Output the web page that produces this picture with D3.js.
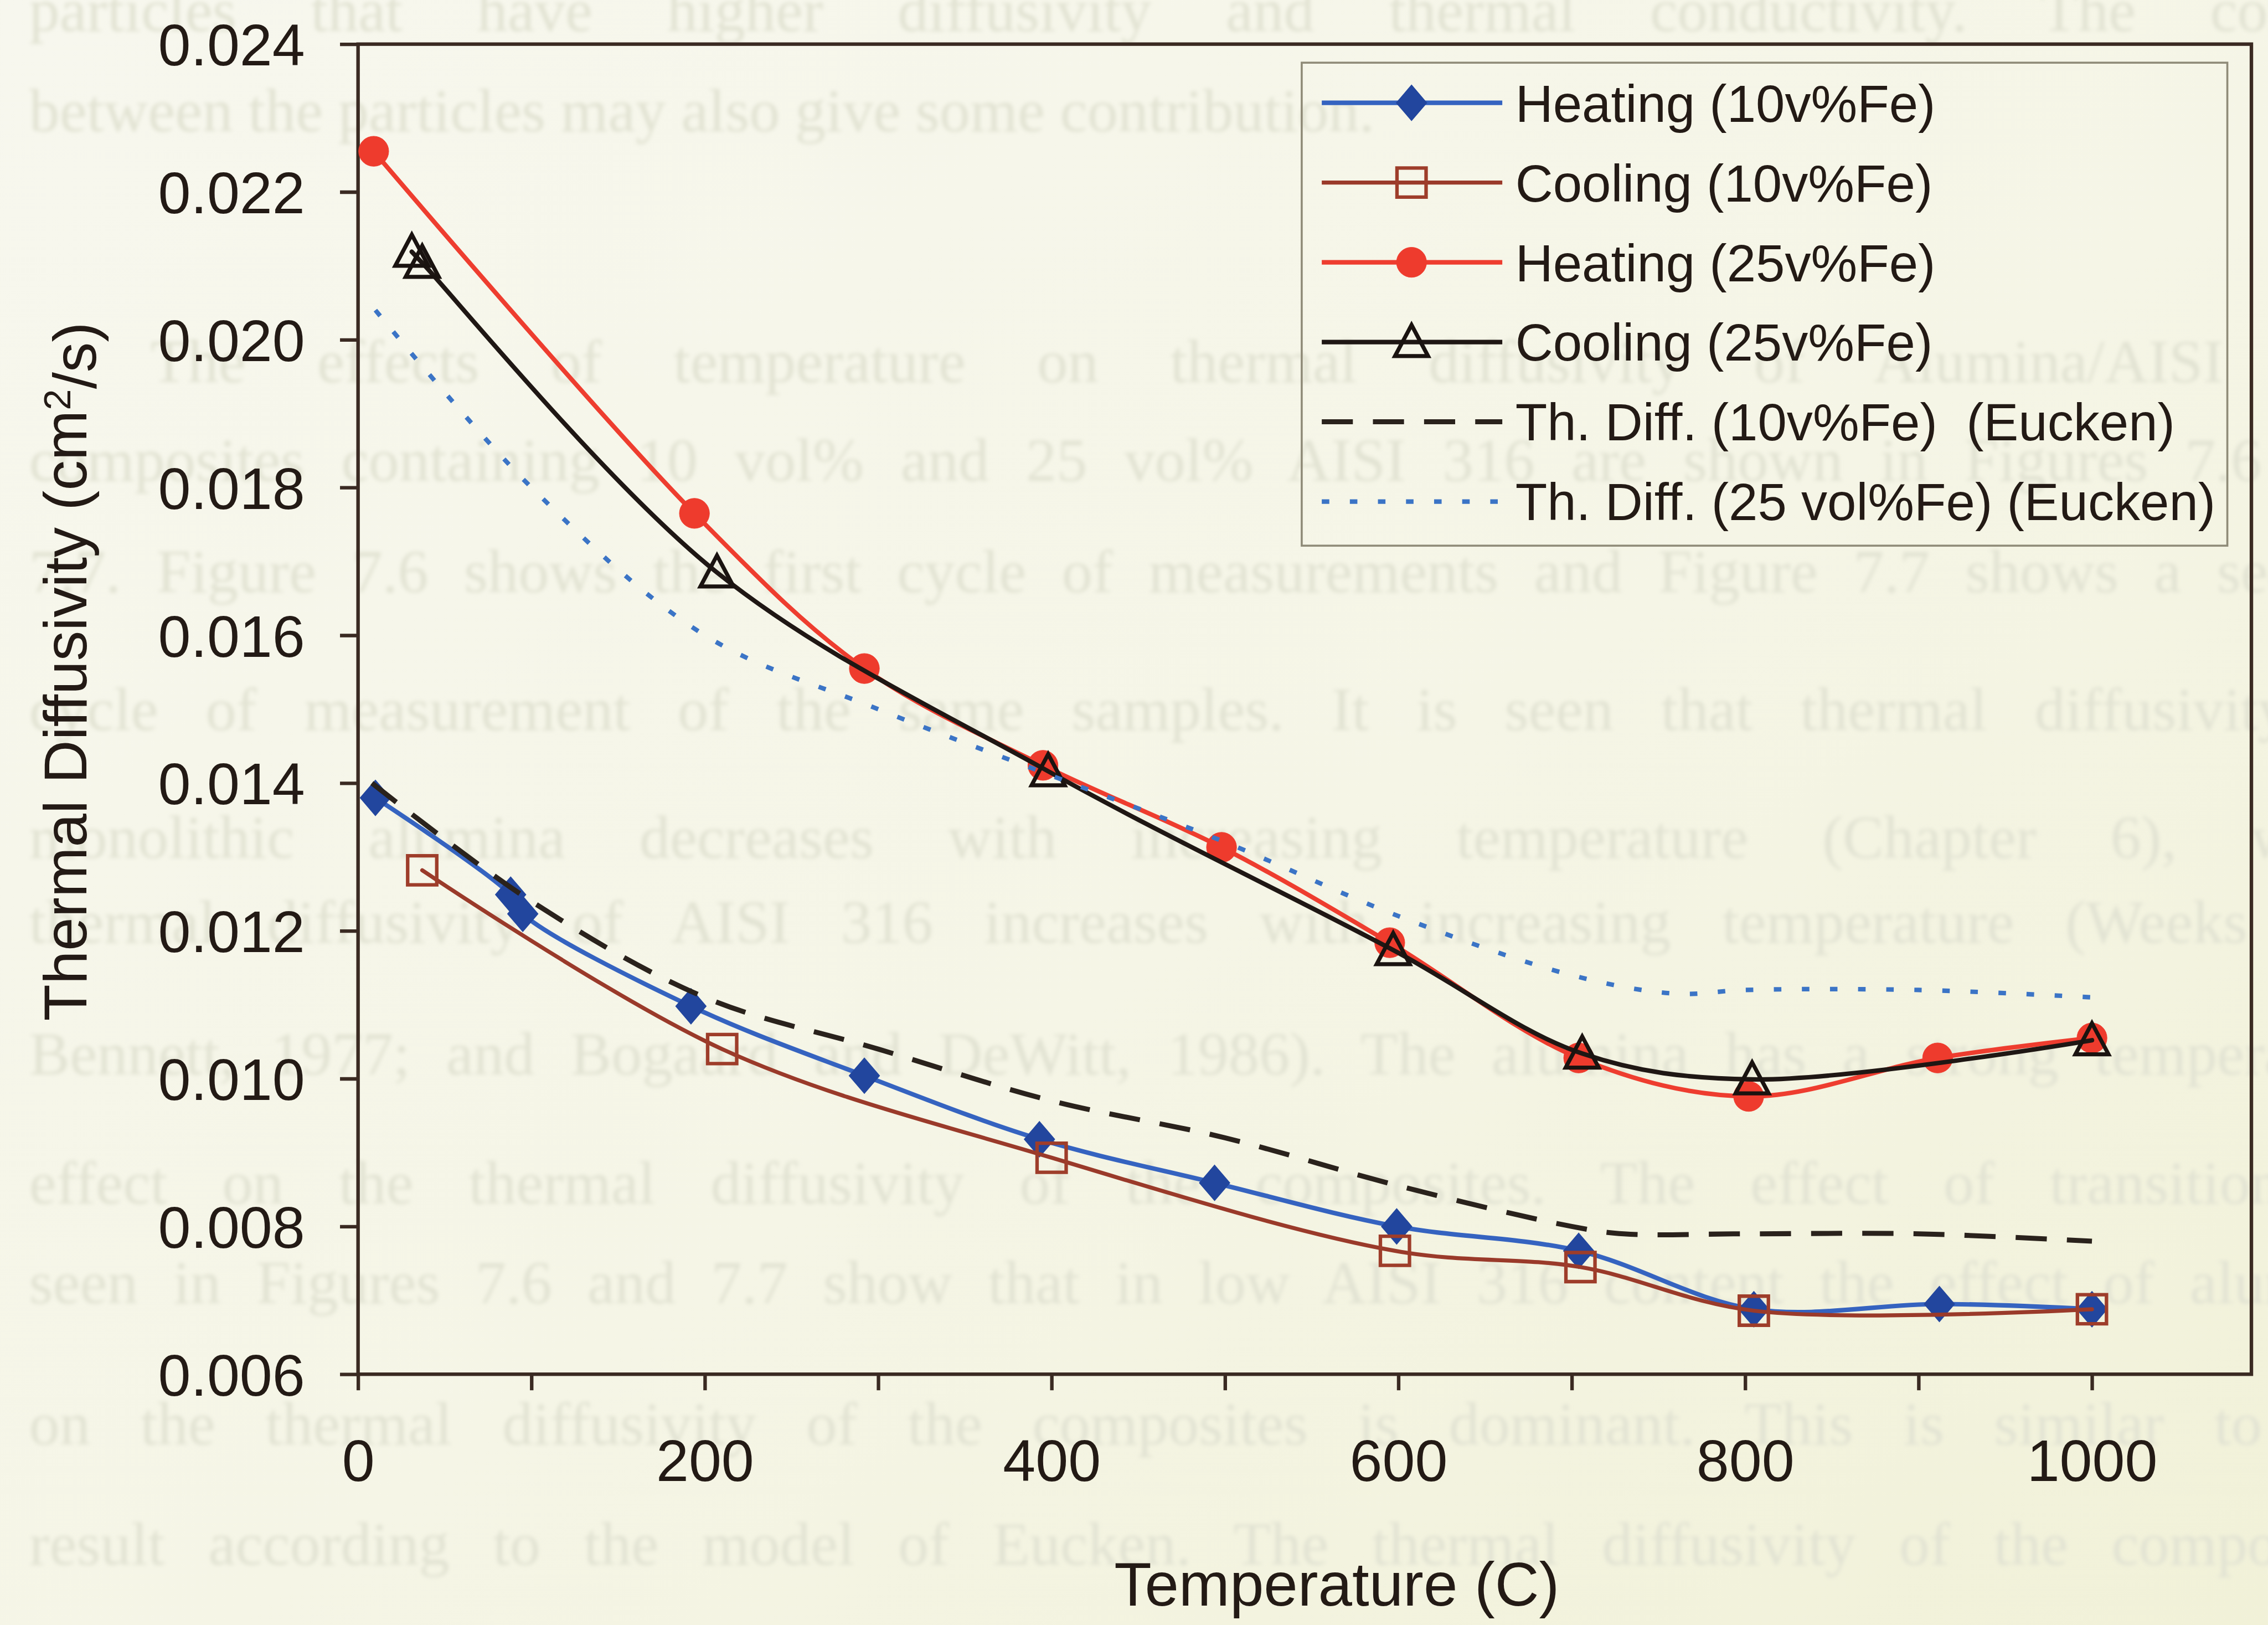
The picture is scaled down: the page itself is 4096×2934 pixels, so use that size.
<!DOCTYPE html>
<html>
<head>
<meta charset="utf-8">
<script src="https://cdn.jsdelivr.net/npm/d3@7"></script>
<style>
  html, body { margin: 0; padding: 0; overflow: hidden; background: #f5f5e7; }
  svg { display: block; }
</style>
</head>
<body>
<svg id="chart"></svg>
<script>
// Thermal diffusivity (cm^2/s) of alumina / AISI 316 composites vs temperature (C)
const heating10T = [10, 88, 95, 192, 292, 393, 494, 599, 704, 805, 912, 1000];
const heating10D = [0.0138, 0.01249, 0.01223, 0.01098, 0.01004, 0.00918, 0.00859, 0.00800, 0.00767, 0.00688, 0.00695, 0.00688];

const cooling10T = [37, 210, 400, 598, 705, 805, 1000];
const cooling10D = [0.01282, 0.0104, 0.00893, 0.00767, 0.00745, 0.00686, 0.00688];

const heating25T = [9, 194, 292, 395, 498, 595, 704, 802, 911, 1000];
const heating25D = [0.02255, 0.01765, 0.01555, 0.01424, 0.01313, 0.01184, 0.01028, 0.00976, 0.01028, 0.01055];

const cooling25T = [31, 37, 207, 398, 597, 706, 804, 1000];
const cooling25D = [0.02119, 0.02104, 0.01685, 0.01416, 0.01174, 0.01034, 0.00999, 0.01052];

// Eucken model predictions
const eucken10T = [8, 100, 200, 300, 400, 500, 600, 700, 730, 800, 900, 1000];
const eucken10D = [0.0140, 0.0124, 0.0111, 0.0104, 0.0097, 0.0092, 0.00855, 0.0080, 0.0079, 0.0079, 0.0079, 0.0078];

const eucken25T = [10, 100, 200, 300, 400, 500, 600, 700, 760, 800, 900, 1000];
const eucken25D = [0.0204, 0.0180, 0.0160, 0.0150, 0.0141, 0.0132, 0.0122, 0.0114, 0.01115, 0.0112, 0.0112, 0.0111];

const seriesNames = [
  "Heating (10v%Fe)",
  "Cooling (10v%Fe)",
  "Heating (25v%Fe)",
  "Cooling (25v%Fe)",
  "Th. Diff. (10v%Fe)  (Eucken)",
  "Th. Diff. (25 vol%Fe) (Eucken)"
];

const xTicks = [0, 100, 200, 300, 400, 500, 600, 700, 800, 900, 1000];
const yTicks = [0.006, 0.008, 0.010, 0.012, 0.014, 0.016, 0.018, 0.020, 0.022, 0.024];

const xTitle = "Temperature (C)";
const yTitleMain = "Thermal Diffusivity (cm";
const yTitleSup = "2";
const yTitleEnd = "/s)";

// faint page text lying behind the figure
const pageLines = [
  "particles that have higher diffusivity and thermal conductivity. The contact",
  "between the particles may also give some contribution.",
  "The effects of temperature on thermal diffusivity of Alumina/AISI 316",
  "composites containing 10 vol% and 25 vol% AISI 316 are shown in Figures 7.6 and",
  "7.7. Figure 7.6 shows the first cycle of measurements and Figure 7.7 shows a second",
  "cycle of measurement of the same samples. It is seen that thermal diffusivity of",
  "monolithic alumina decreases with increasing temperature (Chapter 6), while",
  "thermal diffusivity of AISI 316 increases with increasing temperature (Weeks and",
  "Bennett, 1977; and Bogaard and DeWitt, 1986). The alumina has a strong temperature",
  "effect on the thermal diffusivity of the composites. The effect of transition as",
  "seen in Figures 7.6 and 7.7 show that in low AISI 316 content the effect of alumina",
  "on the thermal diffusivity of the composites is dominant. This is similar to the",
  "result according to the model of Eucken. The thermal diffusivity of the composites"
];

// ---------------------------------------------------------------------------
const W = 4523, H = 3240;
const FONT = "'Liberation Sans', Arial, Helvetica, sans-serif";
const INK = "#231a15";

const svg = d3.select("#chart")
  .attr("width", 4096).attr("height", 2934)
  .attr("viewBox", `0 0 ${W} ${H}`)
  .attr("preserveAspectRatio", "xMidYMid meet");

const defs = svg.append("defs");
const grad = defs.append("linearGradient").attr("id", "paper")
  .attr("x1", 0).attr("y1", 0).attr("x2", 1).attr("y2", 1);
grad.append("stop").attr("offset", 0).attr("stop-color", "#f7f7ee");
grad.append("stop").attr("offset", 0.55).attr("stop-color", "#f5f5e6");
grad.append("stop").attr("offset", 1).attr("stop-color", "#f1f1d8");
defs.append("filter").attr("id", "soft")
  .append("feGaussianBlur").attr("stdDeviation", 4);

svg.append("rect").attr("width", W).attr("height", H).attr("fill", "url(#paper)");

// page text behind the figure, justified by widening the word gaps
const ghost = svg.append("g").attr("filter", "url(#soft)")
  .attr("fill", "#e2e3d3")
  .style("font-family", "'Liberation Serif', 'Times New Roman', serif")
  .style("font-size", "122px");
const ghostBase = [62, 262, 762, 958, 1180, 1456, 1710, 1880, 2142, 2400, 2598, 2880, 3120];
const lineEnd = 4760;
pageLines.forEach((line, i) => {
  const x0 = i === 2 ? 300 : 58;
  const t = ghost.append("text").attr("x", x0).attr("y", ghostBase[i]).text(line);
  if (i !== 1) {
    const natural = t.node().getComputedTextLength();
    const gaps = (line.match(/ /g) || []).length;
    if (gaps > 0) t.style("word-spacing", `${Math.max(0, (lineEnd - x0 - natural) / gaps)}px`);
  }
});

// ---------------------------------------------------------------------------
const plot = { left: 714, right: 4490, top: 88, bottom: 2740 };
const x = d3.scaleLinear().domain([0, 1000]).range([714, 4172]);
const y = d3.scaleLinear().domain([0.006, 0.024]).range([plot.bottom, plot.top]);

const axisColor = "#3a2a22";

// y axis
const yAxis = d3.axisLeft(y).tickValues(yTicks).tickFormat(d3.format(".3f"))
  .tickSize(36).tickPadding(70).tickSizeOuter(0);
const gy = svg.append("g").attr("transform", `translate(${plot.left},0)`).call(yAxis);
gy.select(".domain").remove();
gy.selectAll(".tick line").attr("stroke", axisColor).attr("stroke-width", 7);
gy.selectAll(".tick text").attr("fill", INK)
  .style("font-family", FONT).style("font-size", "117px").attr("dy", "0.36em");

// x axis
const xAxis = d3.axisBottom(x).tickValues(xTicks)
  .tickFormat(d => (d % 200 === 0 ? String(d) : ""))
  .tickSize(32).tickSizeOuter(0);
const gx = svg.append("g").attr("transform", `translate(0,${plot.bottom})`).call(xAxis);
gx.select(".domain").remove();
gx.selectAll(".tick line").attr("stroke", axisColor).attr("stroke-width", 7);
gx.selectAll(".tick text").attr("fill", INK)
  .style("font-family", FONT).style("font-size", "117px")
  .attr("y", 213).attr("dy", 0);

// plot frame
svg.append("rect")
  .attr("x", plot.left).attr("y", plot.top)
  .attr("width", plot.right - plot.left).attr("height", plot.bottom - plot.top)
  .attr("fill", "none").attr("stroke", axisColor).attr("stroke-width", 7);

// axis titles
svg.append("text").attr("x", 2666).attr("y", 3201)
  .attr("text-anchor", "middle").attr("fill", INK)
  .style("font-family", FONT).style("font-size", "122px")
  .text(xTitle);

const yt = svg.append("text")
  .attr("transform", `translate(172,1339) rotate(-90)`)
  .attr("text-anchor", "middle").attr("fill", INK)
  .style("font-family", FONT).style("font-size", "120px");
yt.append("tspan").text(yTitleMain);
yt.append("tspan").attr("dy", "-0.42em").style("font-size", "76px").text(yTitleSup);
yt.append("tspan").attr("dy", "0.42em").text(yTitleEnd);

// ---------------------------------------------------------------------------
const markerPath = {
  diamond: "M0,-35L30,0L0,35L-30,0Z",
  square: "M-29,-29H29V29H-29Z",
  triangle: "M0,-34L33,28H-33Z"
};

const series = [
  { name: seriesNames[0], t: heating10T, d: heating10D, color: "#3563c0", width: 9,
    marker: "diamond", mfill: "#22469e", mstroke: "#22469e", mwidth: 2 },
  { name: seriesNames[1], t: cooling10T, d: cooling10D, color: "#9a3a2a", width: 8,
    marker: "square", mfill: "none", mstroke: "#9e3d2a", mwidth: 7 },
  { name: seriesNames[2], t: heating25T, d: heating25D, color: "#ee3d2f", width: 9,
    marker: "circle", mfill: "#ee3b2d", mstroke: "#ee3b2d", mwidth: 1 },
  { name: seriesNames[3], t: cooling25T, d: cooling25D, color: "#1f1714", width: 9,
    marker: "triangle", mfill: "none", mstroke: "#1a1310", mwidth: 8 },
  { name: seriesNames[4], t: eucken10T, d: eucken10D, color: "#2a221c", width: 10,
    dash: "62,40", marker: null },
  { name: seriesNames[5], t: eucken25T, d: eucken25D, color: "#3b74c6", width: 9,
    dash: "15,41", marker: null }
];

function drawMarker(g, s, cx, cy) {
  if (!s.marker) return;
  if (s.marker === "circle") {
    g.append("circle").attr("cx", cx).attr("cy", cy).attr("r", 30)
      .attr("fill", s.mfill).attr("stroke", s.mstroke).attr("stroke-width", s.mwidth);
  } else {
    g.append("path").attr("d", markerPath[s.marker])
      .attr("transform", `translate(${cx},${cy})`)
      .attr("fill", s.mfill).attr("stroke", s.mstroke)
      .attr("stroke-width", s.mwidth).attr("stroke-linejoin", "miter");
  }
}

const line = d3.line()
  .x(p => x(p[0])).y(p => y(p[1]))
  .curve(d3.curveCatmullRom.alpha(0.5));

const gData = svg.append("g");
series.forEach(s => {
  const pts = s.t.map((t, i) => [t, s.d[i]]);
  const gs = gData.append("g");
  gs.append("path").attr("d", line(pts))
    .attr("fill", "none").attr("stroke", s.color).attr("stroke-width", s.width)
    .attr("stroke-dasharray", s.dash || null)
    .attr("stroke-linejoin", "round").attr("stroke-linecap", s.dash ? "butt" : "round");
  pts.forEach(p => drawMarker(gs, s, x(p[0]), y(p[1])));
});

// ---------------------------------------------------------------------------
// legend
const legend = { x: 2596, y: 125, w: 1846, h: 963, row0: 205, step: 159 };
svg.append("rect")
  .attr("x", legend.x).attr("y", legend.y).attr("width", legend.w).attr("height", legend.h)
  .attr("fill", "none").attr("stroke", "#8f8b78").attr("stroke-width", 4);

series.forEach((s, i) => {
  const cy = legend.row0 + i * legend.step;
  const g = svg.append("g");
  g.append("line").attr("x1", 2636).attr("x2", 2996).attr("y1", cy).attr("y2", cy)
    .attr("stroke", s.color).attr("stroke-width", s.width)
    .attr("stroke-dasharray", s.dash || null);
  drawMarker(g, s, 2815, cy);
  g.append("text").attr("x", 3022).attr("y", cy).attr("dy", "0.36em")
    .attr("fill", INK).style("font-family", FONT).style("font-size", "104px")
    .style("white-space", "pre").attr("xml:space", "preserve")
    .text(s.name);
});
</script>
</body>
</html>
